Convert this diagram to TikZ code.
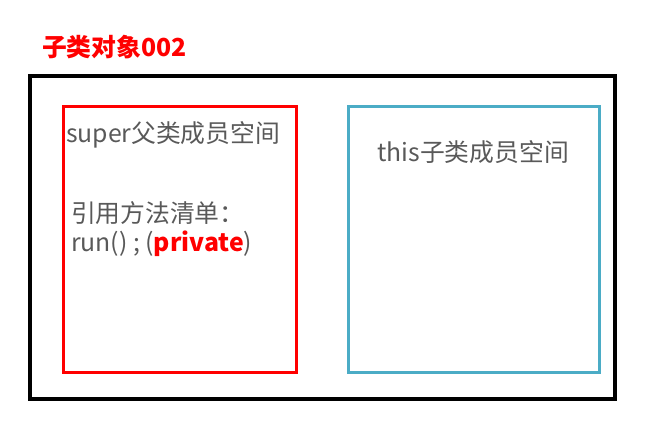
\documentclass[tikz,border=0pt]{standalone}
\usepackage{fontspec}
\setmainfont{Noto Sans CJK SC}
\usepackage{xcolor}
\usetikzlibrary{positioning}

\definecolor{boxred}{HTML}{FF0000}
\definecolor{boxblue}{HTML}{4BACC6}
\definecolor{txtgray}{HTML}{595959}

\begin{document}
\begin{tikzpicture}[
  x=0.75pt, y=-0.75pt,
  every node/.style={inner sep=0pt, outer sep=0pt},
  frame/.style={draw=#1, rectangle, fill=none},
  label/.style={text=txtgray, font=\fontsize{18.6}{22}\selectfont, anchor=west},
]
\useasboundingbox (0,0) rectangle (665,423);

% Title
\node[anchor=west, text=boxred, font=\fontsize{18.6}{22}\selectfont\bfseries] (title) at (42,47) {子类对象002};

% Object frame
\node[frame=black, line width=3pt, minimum width=438.75pt, minimum height=242.25pt] (obj) at (322.5,237.5) {};

% Super space
\node[frame=boxred, line width=2.25pt, minimum width=174.75pt, minimum height=199.5pt] (superbox) at (180,240) {};
\node[label] (supertxt) at (66,135) {super父类成员空间};
\node[label] (refs) at (71,213) {引用方法清单：};
\node[label, below=5pt of refs.south west, anchor=north west] (run) {run() ; (\textcolor{boxred}{\textbf{private}})};

% This space
\node[frame=boxblue, line width=2.25pt, minimum width=188.25pt, minimum height=199.5pt] (thisbox) at (473.5,240) {};
\node[label, anchor=center] (thistxt) at (473,152) {this子类成员空间};
\end{tikzpicture}
\end{document}
